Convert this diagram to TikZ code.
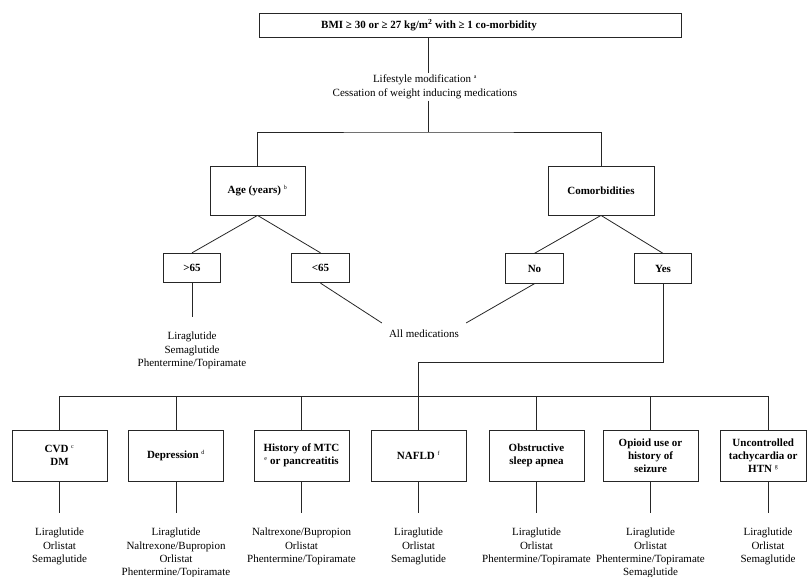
\documentclass[tikz,border=0pt]{standalone}
\usepackage{fontspec}
\setmainfont{Liberation Serif}
\newcommand{\sps}[1]{\textsuperscript{\normalfont\fontsize{6}{6}\selectfont #1}}
\tikzset{
  basefont/.style={font=\fontsize{11}{13.2}\selectfont},
  box/.style={draw=black!85, line width=0.8pt, align=center, inner sep=2pt,
              font=\fontsize{11}{13.2}\selectfont\bfseries},
  txt/.style={align=center, font=\fontsize{11}{13.2}\selectfont},
  meds/.style={txt, anchor=north, inner xsep=2pt, inner ysep=15pt},
  conn/.style={draw=black!85, line width=0.8pt},
}
\begin{document}
\begin{tikzpicture}[x=1pt,y=-1pt]
\useasboundingbox (0,0) rectangle (807,577);

% top
\node[box, minimum width=422pt, minimum height=24pt] (topbox) at (470,25) {};
\node[box, draw=none, inner sep=0pt] (toptext) at (429,25)
  {BMI ≥ 30 or ≥ 27 kg/m\textsuperscript{2} with ≥ 1 co-morbidity};
\node[txt, anchor=north, inner xsep=2pt, inner ysep=2pt] (life) at (425,73)
  {Lifestyle modification \sps{a}\\Cessation of weight inducing medications};
\coordinate (split) at (428,132);

% second level
\node[box, minimum width=95pt, minimum height=49pt] (age) at (257.5,190.5) {Age (years) \sps{b}};
\node[box, minimum width=106pt, minimum height=49pt] (com) at (601,190.5) {Comorbidities};

% third level
\node[box, minimum width=57.5pt, minimum height=29.5pt] (gt) at (192,268) {>65};
\node[box, minimum width=57.5pt, minimum height=29.5pt] (lt) at (320.5,268) {<65};
\node[box, minimum width=57.5pt, minimum height=29.5pt] (no) at (534.5,268.5) {No};
\node[box, minimum width=57.5pt, minimum height=29.5pt] (yes) at (663,268.5) {Yes};

\node[meds] (m0) at (192,317) {Liraglutide\\Semaglutide\\Phentermine/Topiramate};
\node[txt, inner sep=7pt] (allmed) at (424,334) {All medications};

% bottom boxes
\begin{scope}[every node/.append style={minimum height=51pt}]
\node[box, minimum width=95pt] (b1) at (59.5,455.5) {CVD \sps{c}\\DM};
\node[box, minimum width=95pt] (b2) at (176,455.5) {Depression \sps{d}};
\node[box, minimum width=95pt] (b3) at (301.5,455.5) {History of MTC\\\sps{e} or pancreatitis};
\node[box, minimum width=95pt] (b4) at (418.5,455.5) {NAFLD \sps{f}};
\node[box, minimum width=95pt] (b5) at (536.5,455.5) {Obstructive\\sleep apnea};
\node[box, minimum width=95pt] (b6) at (650.5,455.5) {Opioid use or\\history of\\seizure};
\node[box, minimum width=86.5pt] (b7) at (763.25,455.5) {Uncontrolled\\tachycardia or\\HTN \sps{g}};
\end{scope}

\node[meds] (m1) at (59.5,513) {Liraglutide\\Orlistat\\Semaglutide};
\node[meds] (m2) at (176,513) {Liraglutide\\Naltrexone/Bupropion\\Orlistat\\Phentermine/Topiramate};
\node[meds] (m3) at (301.5,513) {Naltrexone/Bupropion\\Orlistat\\Phentermine/Topiramate};
\node[meds] (m4) at (418.5,513) {Liraglutide\\Orlistat\\Semaglutide};
\node[meds] (m5) at (536.5,513) {Liraglutide\\Orlistat\\Phentermine/Topiramate};
\node[meds] (m6) at (650.5,513) {Liraglutide\\Orlistat\\Phentermine/Topiramate\\Semaglutide};
\node[meds] (m7) at (768,513) {Liraglutide\\Orlistat\\Semaglutide};

\coordinate (bus) at (0,396);

% connectors
\draw[conn] (topbox.south -| split) -- (life.north -| split);
\draw[conn] (life.south -| split) -- (split);
\draw[conn] (age.north) |- (split) -| (com.north);
\draw[conn] (age.south) -- (gt.north);
\draw[conn] (age.south) -- (lt.north);
\draw[conn] (com.south) -- (no.north);
\draw[conn] (com.south) -- (yes.north);
\draw[conn] (gt.south) -- (m0.north);
\draw[conn] (lt.south) -- (allmed.north west);
\draw[conn] (no.south) -- (allmed.north east);
\draw[conn] (yes.south) |- (b4.north |- 0,362) -- (b4.north |- bus);
\draw[conn] (b1.north) -- (b1.north |- bus) -- (m7.north |- bus) -- (m7.north |- b7.north);
\foreach \b in {b2,b3,b4,b5,b6} {
  \draw[conn] (\b.north) -- (\b.north |- bus);
}
\foreach \b/\m in {b1/m1,b2/m2,b3/m3,b4/m4,b5/m5,b6/m6} {
  \draw[conn] (\b.south) -- (\m.north);
}
\draw[conn] (m7.north |- b7.south) -- (m7.north);
\end{tikzpicture}
\end{document}
